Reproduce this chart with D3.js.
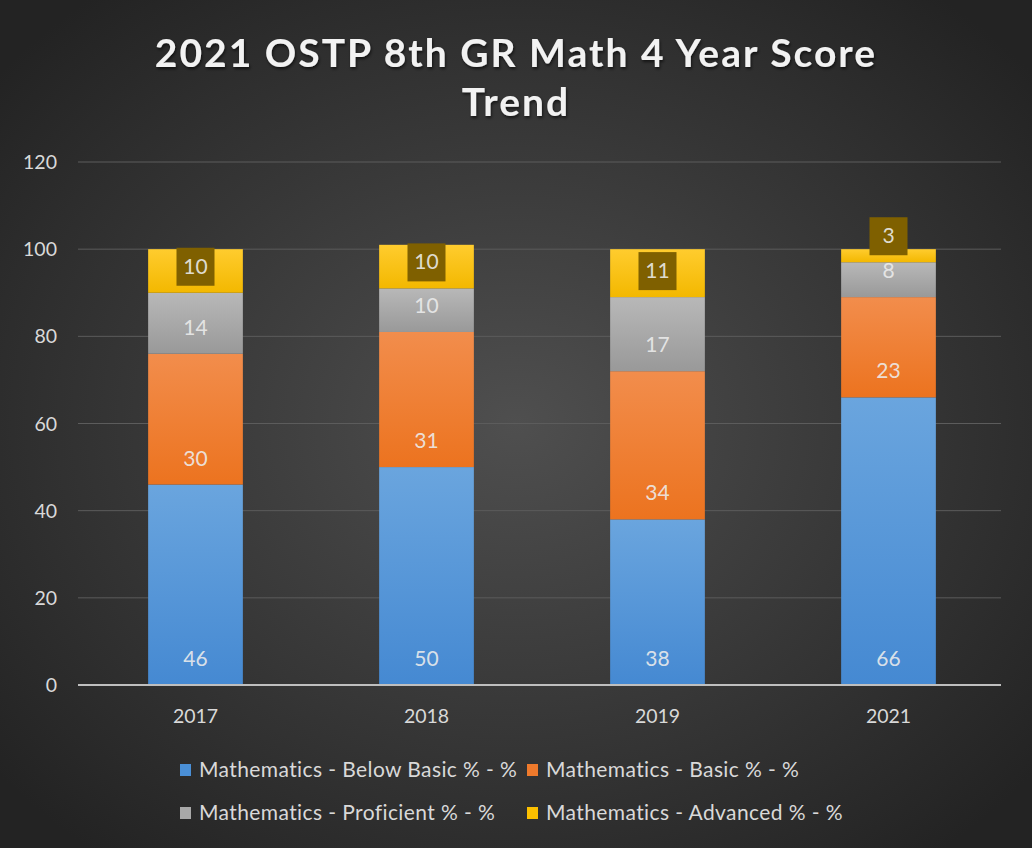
<!DOCTYPE html>
<html lang="en">
<head>
<meta charset="UTF-8">
<title>2021 OSTP 8th GR Math 4 Year Score Trend</title>
<script src="https://cdn.jsdelivr.net/npm/d3@7"></script>
<style>
html, body {
    margin: 0;
    padding: 0;
    background: #262626;
}
svg {
    display: block;
}
</style>
</head>
<body>
<div id="chart"></div>
<script>
// chart data
const years = ["2017", "2018", "2019", "2021"];
const seriesNames = [
    "Mathematics - Below Basic % - %",
    "Mathematics - Basic % - %",
    "Mathematics - Proficient % - %",
    "Mathematics - Advanced % - %"
];
const belowBasic = [46, 50, 38, 66];
const basic = [30, 31, 34, 23];
const proficient = [14, 10, 17, 8];
const advanced = [10, 10, 11, 3];
const yTicks = [0, 20, 40, 60, 80, 100, 120];

const WIDTH = 1032;
const HEIGHT = 848;
const FONT = "Lato, 'Open Sans', sans-serif";

// colours: [top of gradient, bottom of gradient]
const COLORS = [
    ["#6aa5de", "#4589d2"],
    ["#f28d4c", "#ec731f"],
    ["#b8b8b8", "#999999"],
    ["#ffcc2e", "#f3b800"]
];
const LEGEND_COLORS = ["#4a8fd6", "#ef7a2c", "#a8a8a8", "#fcc000"];

const margin = {top: 162, right: 28, bottom: 163, left: 80};
const rows = years.map((y, i) => ({
    year: y,
    values: [belowBasic[i], basic[i], proficient[i], advanced[i]]
}));

const svg = d3.select("#chart").append("svg")
    .attr("width", WIDTH)
    .attr("height", HEIGHT);

const defs = svg.append("defs");

const bg = defs.append("radialGradient")
    .attr("id", "bg")
    .attr("cx", "50%").attr("cy", "50%").attr("r", "65%");
bg.append("stop").attr("offset", "0%").attr("stop-color", "#4f4f4f");
bg.append("stop").attr("offset", "100%").attr("stop-color", "#232323");

COLORS.forEach((c, i) => {
    const g = defs.append("linearGradient")
        .attr("id", "seg" + i)
        .attr("x1", 0).attr("y1", 0).attr("x2", 0).attr("y2", 1);
    g.append("stop").attr("offset", "0%").attr("stop-color", c[0]);
    g.append("stop").attr("offset", "100%").attr("stop-color", c[1]);
});

const shadow = defs.append("filter").attr("id", "shadow")
    .attr("x", "-10%").attr("y", "-10%").attr("width", "120%").attr("height", "130%");
shadow.append("feDropShadow")
    .attr("dx", 1).attr("dy", 2).attr("stdDeviation", 1.5)
    .attr("flood-color", "#000").attr("flood-opacity", 0.6);

svg.append("rect")
    .attr("width", WIDTH).attr("height", HEIGHT)
    .attr("fill", "url(#bg)");

// title
const title = svg.append("text")
    .attr("text-anchor", "middle")
    .attr("fill", "#f2f2f2")
    .attr("font-family", FONT)
    .attr("font-weight", "bold")
    .attr("font-size", 39)
    .attr("letter-spacing", 2)
    .attr("filter", "url(#shadow)");
title.append("tspan").attr("x", 516).attr("y", 67).text("2021 OSTP 8th GR Math 4 Year Score");
title.append("tspan").attr("x", 516).attr("y", 116).text("Trend");

const x = d3.scaleBand()
    .domain(years)
    .range([margin.left, WIDTH - margin.right])
    .paddingInner(0.59)
    .paddingOuter(0.295);

const y = d3.scaleLinear()
    .domain([0, 120])
    .range([HEIGHT - margin.bottom, margin.top]);

// gridlines
svg.append("g")
    .selectAll("line")
    .data(yTicks.filter(d => d > 0))
    .join("line")
    .attr("x1", 78).attr("x2", 1001)
    .attr("y1", d => y(d)).attr("y2", d => y(d))
    .attr("stroke", "#5c5c5c")
    .attr("stroke-width", 1);

// y labels
svg.append("g")
    .selectAll("text")
    .data(yTicks)
    .join("text")
    .attr("x", 57)
    .attr("y", d => y(d) + 7)
    .attr("text-anchor", "end")
    .attr("fill", "#d9d9d9")
    .attr("font-family", FONT)
    .attr("font-size", 19.5)
    .text(d => d);

// stacked bars
const stacked = d3.stack()
    .keys([0, 1, 2, 3])
    .value((d, k) => d.values[k])(rows);

const layers = svg.append("g")
    .selectAll("g")
    .data(stacked)
    .join("g")
    .attr("fill", (d, i) => `url(#seg${i})`);

layers.selectAll("rect")
    .data(d => d)
    .join("rect")
    .attr("x", d => x(d.data.year))
    .attr("width", x.bandwidth())
    .attr("y", d => y(d[1]))
    .attr("height", d => y(d[0]) - y(d[1]));

// x axis line
svg.append("line")
    .attr("x1", 78).attr("x2", 1001)
    .attr("y1", y(0)).attr("y2", y(0))
    .attr("stroke", "#bfbfbf")
    .attr("stroke-width", 2);

// x labels
svg.append("g")
    .selectAll("text")
    .data(years)
    .join("text")
    .attr("x", d => x(d) + x.bandwidth() / 2)
    .attr("y", 723)
    .attr("text-anchor", "middle")
    .attr("fill", "#d9d9d9")
    .attr("font-family", FONT)
    .attr("font-size", 19.5)
    .text(d => d);

// data labels, placed at the inside base of each segment
stacked.forEach((layer, i) => {
    const g = svg.append("g");
    layer.forEach(d => {
        const cx = x(d.data.year) + x.bandwidth() / 2;
        const cy = y(d[0]) - 26;
        if (i === 3) {
            g.append("rect")
                .attr("x", cx - 19).attr("y", cy - 19)
                .attr("width", 38).attr("height", 38)
                .attr("fill", "#7f6000");
        }
        g.append("text")
            .attr("x", cx)
            .attr("y", cy + 7)
            .attr("text-anchor", "middle")
            .attr("fill", "#ececec")
            .attr("fill-opacity", 0.9)
            .attr("font-family", FONT)
            .attr("font-size", 21)
            .text(d.data.values[i]);
    });
});

// legend
const legendPos = [[180, 770], [527, 770], [180, 813], [527, 813]];
const legend = svg.append("g")
    .selectAll("g")
    .data(seriesNames)
    .join("g")
    .attr("transform", (d, i) => `translate(${legendPos[i][0]},${legendPos[i][1]})`);
legend.append("rect")
    .attr("x", 0).attr("y", -6)
    .attr("width", 11).attr("height", 12)
    .attr("fill", (d, i) => LEGEND_COLORS[i]);
legend.append("text")
    .attr("x", 19)
    .attr("y", 7)
    .attr("fill", "#d9d9d9")
    .attr("font-family", FONT)
    .attr("font-size", 21)
    .attr("letter-spacing", 0.4)
    .text(d => d);
</script>
</body>
</html>
